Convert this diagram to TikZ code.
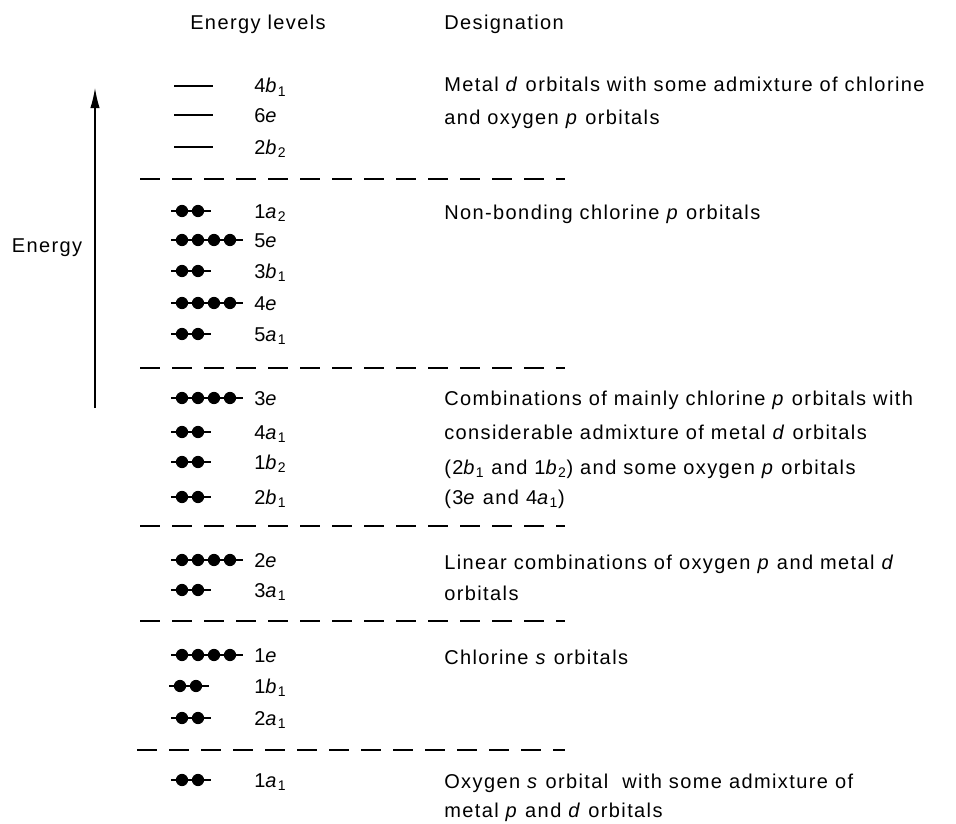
\documentclass[tikz,border=0pt]{standalone}
\usepackage{fontspec}
\setmainfont{Liberation Sans}[LetterSpace=7]
\usetikzlibrary{arrows.meta}
\newcommand{\olab}[3]{#1\textit{#2}\textsubscript{#3}}

\tikzset{
  txt/.style={font=\fontsize{15pt}{18pt}\selectfont, anchor=west, inner sep=0pt, text height=10.5pt, text depth=0pt},
  level/.style={line width=1pt},
  sep/.style={line width=1.2pt, dash pattern=on 15pt off 9pt},
  bare/.pic={\draw[level] (3,0) -- (42,0);},
  pair/.pic={\draw[level] (0,0) -- (40,0);
    \fill (11,0) circle[radius=4.6pt] (27,0) circle[radius=4.6pt];},
  quad/.pic={\draw[level] (0,0) -- (72,0);
    \fill (11,0) circle[radius=4.6pt] (27,0) circle[radius=4.6pt]
          (43,0) circle[radius=4.6pt] (59,0) circle[radius=4.6pt];}
}

\begin{document}
\begin{tikzpicture}[x=0.75pt, y=-0.75pt]
  \useasboundingbox (0,0) rectangle (956,824);

  % headings
  \node[txt] (hlev) at (190,23) {Energy levels};
  \node[txt] (hdes) at (444,23) {Designation};

  % energy axis
  \coordinate (ebot) at (95,408);
  \coordinate (etop) at (95,88);
  \draw[line width=0.9pt, -{Latex[length=15pt, width=7pt]}] (ebot) -- (etop);
  \node[txt, anchor=center] (energy) at (47,245) {Energy};

  % empty levels
  \pic at (171,86) {bare};
  \pic at (171,115) {bare};
  \pic at (171,147) {bare};
  \node[txt] (l4b1) at (254,86) {\olab{4}{b}{1}};
  \node[txt] (l6e) at (254,115) {6\textit{e}};
  \node[txt] (l2b2) at (254,147) {\olab{2}{b}{2}};

  % non-bonding chlorine p
  \pic at (171,211) {pair};
  \pic at (171,240) {quad};
  \pic at (171,271) {pair};
  \pic at (171,303) {quad};
  \pic at (171,334) {pair};
  \node[txt] (l1a2) at (254,211) {\olab{1}{a}{2}};
  \node[txt] (l5e) at (254,240) {5\textit{e}};
  \node[txt] (l3b1) at (254,271) {\olab{3}{b}{1}};
  \node[txt] (l4e) at (254,303) {4\textit{e}};
  \node[txt] (l5a1) at (254,334) {\olab{5}{a}{1}};

  % chlorine p with metal d
  \pic at (171,398) {quad};
  \pic at (171,432) {pair};
  \pic at (171,462) {pair};
  \pic at (171,497) {pair};
  \node[txt] (l3e) at (254,398) {3\textit{e}};
  \node[txt] (l4a1) at (254,432) {\olab{4}{a}{1}};
  \node[txt] (l1b2) at (254,462) {\olab{1}{b}{2}};
  \node[txt] (l2b1) at (254,497) {\olab{2}{b}{1}};

  % oxygen p and metal d
  \pic at (171,560) {quad};
  \pic at (171,590) {pair};
  \node[txt] (l2e) at (254,560) {2\textit{e}};
  \node[txt] (l3a1) at (254,590) {\olab{3}{a}{1}};

  % chlorine s
  \pic at (171,655) {quad};
  \pic at (169,686) {pair};
  \pic at (171,718) {pair};
  \node[txt] (l1e) at (254,655) {1\textit{e}};
  \node[txt] (l1b1) at (254,686) {\olab{1}{b}{1}};
  \node[txt] (l2a1) at (254,718) {\olab{2}{a}{1}};

  % oxygen s
  \pic at (171,780) {pair};
  \node[txt] (l1a1) at (254,780) {\olab{1}{a}{1}};

  % group separators
  \draw[sep] (140,179) -- (565,179);
  \draw[sep] (140,368) -- (565,368);
  \draw[sep] (140,526) -- (565,526);
  \draw[sep] (140,621) -- (565,621);
  \draw[sep] (137,750) -- (565,750);

  % designations
  \node[txt] (d1a) at (444,85) {Metal \textit{d} orbitals with some admixture of chlorine};
  \node[txt] (d1b) at (444,117) {and oxygen \textit{p} orbitals};
  \node[txt] (d2a) at (444,212) {Non-bonding chlorine \textit{p} orbitals};
  \node[txt] (d3a) at (444,398) {Combinations of mainly chlorine \textit{p} orbitals with};
  \node[txt] (d3b) at (444,432) {considerable admixture of metal \textit{d} orbitals};
  \node[txt] (d3c) at (444,467) {(\olab{2}{b}{1} and \olab{1}{b}{2}) and some oxygen \textit{p} orbitals};
  \node[txt] (d3d) at (444,497) {(3\textit{e} and \olab{4}{a}{1})};
  \node[txt] (d4a) at (444,562) {Linear combinations of oxygen \textit{p} and metal \textit{d}};
  \node[txt] (d4b) at (444,593) {orbitals};
  \node[txt] (d5a) at (444,657) {Chlorine \textit{s} orbitals};
  \node[txt] (d6a) at (444,781) {Oxygen \textit{s} orbital \ with some admixture of};
  \node[txt] (d6b) at (444,810) {metal \textit{p} and \textit{d} orbitals};
\end{tikzpicture}
\end{document}
